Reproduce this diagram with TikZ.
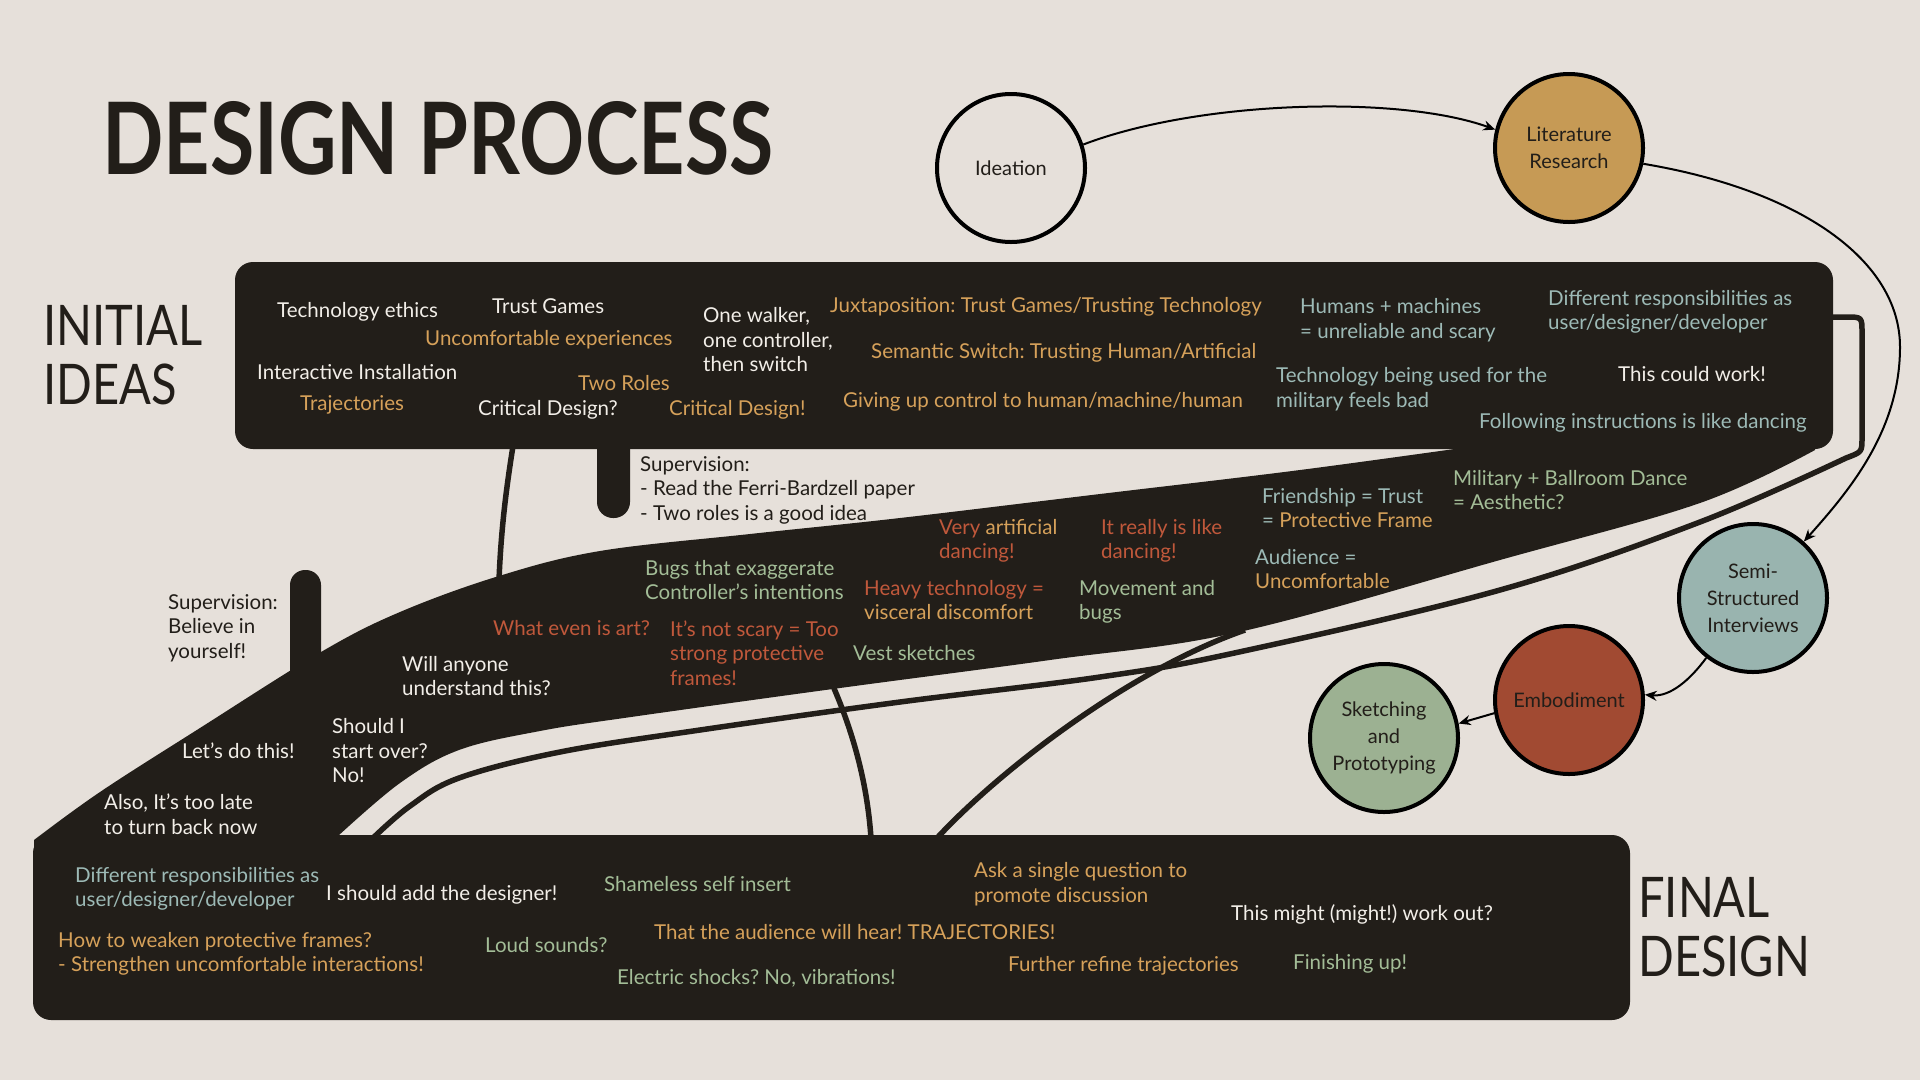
\documentclass[tikz,border=0pt]{standalone}
\usepackage{fontspec}
\setmainfont{Lato}
\usetikzlibrary{arrows.meta,calc}
\definecolor{paper}{HTML}{E6E0DA}
\definecolor{ink}{HTML}{221E19}
\definecolor{chalk}{HTML}{F2EEE8}
\definecolor{ochre}{HTML}{D6A15A}
\definecolor{sage}{HTML}{9DBAB6}
\definecolor{rust}{HTML}{C0583B}
\definecolor{moss}{HTML}{A3BD97}
\definecolor{fillochre}{HTML}{C69A55}
\definecolor{fillsage}{HTML}{99B4AF}
\definecolor{fillrust}{HTML}{A14A32}
\definecolor{fillmoss}{HTML}{9CB192}
\frenchspacing
\begin{document}
\begin{tikzpicture}[x=1pt,y=-1pt,
  note/.style={anchor=west,align=left,inner sep=0pt,font=\fontsize{20.5}{24.5}\selectfont},
  light/.style={note,text=chalk},
  gold/.style={note,text=ochre},
  teal/.style={note,text=sage},
  red/.style={note,text=rust},
  green/.style={note,text=moss},
  dark/.style={note,text=ink},
  stage/.style={circle,draw=black,line width=4pt,minimum size=148pt,inner sep=0pt,
    align=center,text=ink,font=\fontsize{20}{27}\selectfont},
  flow/.style={draw=black,line width=2pt,-{Stealth[length=12pt,width=10pt]}},
  rib/.style={draw=ink,line width=5.5pt},
  heading/.style={anchor=west,inner sep=0pt,text=ink}
]
% page
\fill[paper] (0,0) rectangle (1920,1080);
\useasboundingbox (0,0) rectangle (1920,1080);

% title
\node[anchor=south west,inner sep=0pt,text=ink] (title) at (102,175)
  {\resizebox{671pt}{73pt}{\bfseries DESIGN PROCESS}};

% dark regions: initial ideas, final design and the sweep between them
\fill[ink,rounded corners=18pt] (235,262) rectangle (1833,449);
\fill[ink,rounded corners=18pt] (33,835) rectangle (1630,1020);
\fill[ink,rounded corners=16pt] (597,420) rectangle (630,518);
\fill[ink,rounded corners=15pt] (290,570) rectangle (321,720);
\fill[ink] plot[smooth,tension=0.6] coordinates {(1490,444) (1300,470) (1100,494) (900,518) (750,534) (600,551) (499,576) (400,612) (321,652) (200,728) (100,792) (34,840)}
  -- (34,860) -- (335,860)
  -- plot[smooth,tension=0.6] coordinates {(338,836) (400,783) (459,750) (540,731) (631,717) (840,688) (1050,660) (1239,632) (1500,560) (1700,503) (1815,450)}
  -- (1815,430) -- cycle;

% threads linking ideas
\coordinate (t1a) at (513,446);  \coordinate (t1b) at (499,580);
\coordinate (t2a) at (833,686);  \coordinate (t2b) at (871,838);
\coordinate (t3a) at (937,838);  \coordinate (t3b) at (1245,630);
\coordinate (t4a) at (1833,317); \coordinate (t4b) at (373,838);
\draw[rib] (t1a) .. controls (506,490) and (501,530) .. (t1b);
\draw[rib] (t2a) .. controls (852,730) and (867,780) .. (t2b);
\draw[rib] (t3a) .. controls (1000,770) and (1130,670) .. (t3b);
\draw[rib,line join=round] (t4a) -- (1846,317) .. controls (1862,317) .. (1862,333) -- (1862,438)
  .. controls (1862,452) .. (1846,458)
  -- plot[smooth,tension=0.6] coordinates {(1846,458) (1700,522) (1500,590) (1239,652) (1100,677) (900,702) (700,730) (560,752) (459,778) (410,806) (t4b)};

% section labels
\node[heading,align=left,font=\fontsize{56}{59}\selectfont] (initial) at (43,355)
  {\scalebox{0.84}[1]{INITIAL}\\\scalebox{0.84}[1]{IDEAS}};
\node[heading,align=left,font=\fontsize{56}{59}\selectfont] (final) at (1638,927)
  {\scalebox{0.84}[1]{FINAL}\\\scalebox{0.84}[1]{DESIGN}};

% process stages
\node[stage,fill=none] (idea) at (1011,168) {Ideation};
\node[stage,fill=fillochre] (lit) at (1569,148) {Literature\\Research};
\node[stage,fill=fillsage] (semi) at (1753,598) {Semi-\\Structured\\Interviews};
\node[stage,fill=fillrust] (emb) at (1569,700) {Embodiment};
\node[stage,fill=fillmoss] (sketch) at (1384,738) {Sketching\\and\\Prototyping};

\draw[flow] (idea.18) .. controls (1200,100) and (1400,95) .. (lit.166);
\draw[flow] (lit.-12) .. controls (1800,190) and (1900,260) .. (1900,347)
  .. controls (1900,430) and (1850,490) .. (semi.48);
\draw[flow] (semi.232) .. controls (1690,680) and (1670,697) .. (emb.4);
\draw[flow] (emb.190) -- (sketch.11);

% initial ideas
\node[light] (n1) at (277,312) {Technology ethics};
\node[light] (n2) at (492,306) {Trust Games};
\node[gold] (n3) at (425,340) {Uncomfortable experiences};
\node[light] (n4) at (257,372) {Interactive Installation};
\node[gold] (n5) at (300,405) {Trajectories};
\node[gold] (n6) at (578,383) {Two Roles};
\node[light] (n7) at (478,410) {Critical Design?};
\node[gold] (n8) at (669,410) {Critical Design!};
\node[light] (n9) at (703,340) {One walker,\\one controller,\\then switch};
\node[gold] (n10) at (830,307) {Juxtaposition: Trust Games/Trusting Technology};
\node[gold] (n11) at (871,353) {Semantic Switch: Trusting Human/Artificial};
\node[gold] (n12) at (843,402) {Giving up control to human/machine/human};
\node[teal] (n13) at (1300,320) {Humans + machines\\= unreliable and scary};
\node[teal] (n14) at (1548,312) {Different responsibilities as\\user/designer/developer};
\node[teal] (n15) at (1276,389) {Technology being used for the\\military feels bad};
\node[light] (n16) at (1618,374) {This could work!};
\node[teal] (n17) at (1479,423) {Following instructions is like dancing};

% supervision notes
\node[dark] (s1) at (640,490) {Supervision:\\- Read the Ferri-Bardzell paper\\- Two roles is a good idea};
\node[dark] (s2) at (168,628) {Supervision:\\Believe in\\yourself!};

% along the way
\node[green] (m1) at (645,580) {Bugs that exaggerate\\Controller’s intentions};
\node[red] (m2) at (939,541) {Very \textcolor{ochre}{artificial}\\dancing!};
\node[red] (m3) at (1101,541) {It really is like\\dancing!};
\node[teal] (m4) at (1262,508) {Friendship = Trust\\= \textcolor{ochre}{Protective Frame}};
\node[green] (m5) at (1453,490) {Military + Ballroom Dance\\= Aesthetic?};
\node[teal] (m6) at (1255,569) {Audience =\\\textcolor{ochre}{Uncomfortable}};
\node[red] (m7) at (864,600) {Heavy technology =\\\textcolor{ochre}{visceral discomfort}};
\node[green] (m8) at (1079,602) {Movement and\\bugs};
\node[red] (m9) at (493,628) {What even is art?};
\node[red] (m10) at (670,653) {It’s not scary = Too\\strong protective\\frames!};
\node[green] (m11) at (853,653) {Vest sketches};
\node[light] (m12) at (402,676) {Will anyone\\understand this?};
\node[light] (m13) at (332,751) {Should I\\start over?\\No!};
\node[light] (m14) at (182,751) {Let’s do this!};
\node[light] (m15) at (104,814) {Also, It’s too late\\to turn back now};

% final design
\node[teal] (f1) at (75,889) {Different responsibilities as\\user/designer/developer};
\node[light] (f2) at (326,895) {I should add the designer!};
\node[green] (f3) at (604,884) {Shameless self insert};
\node[gold] (f4) at (58,954) {How to weaken protective frames?\\- Strengthen uncomfortable interactions!};
\node[green] (f5) at (485,945) {Loud sounds?};
\node[gold] (f6) at (654,932) {That the audience will hear! TRAJECTORIES!};
\node[green] (f7) at (617,978) {Electric shocks? No, vibrations!};
\node[gold] (f8) at (974,884) {Ask a single question to\\promote discussion};
\node[light] (f9) at (1231,914) {This might (might!) work out?};
\node[gold] (f10) at (1008,966) {Further refine trajectories};
\node[green] (f11) at (1293,964) {Finishing up!};
\end{tikzpicture}
\end{document}
